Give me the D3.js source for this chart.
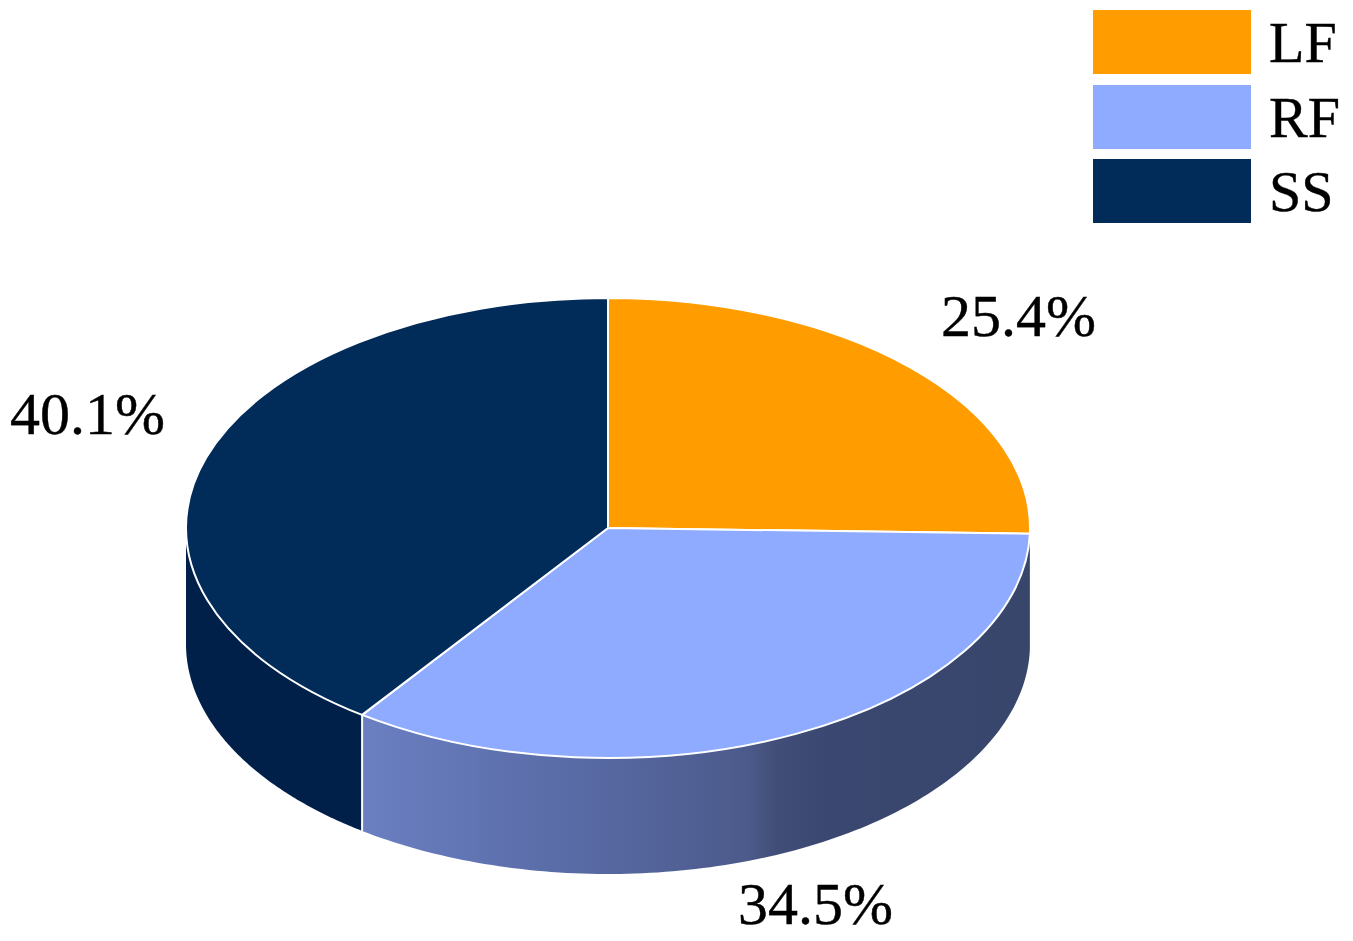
<!DOCTYPE html>
<html>
<head>
<meta charset="utf-8">
<script src="https://cdn.jsdelivr.net/npm/d3@7"></script>
<style>
  html, body { margin: 0; padding: 0; background: #fff; }
  svg { display: block; }
  text { font-family: "Liberation Serif", serif; fill: #000; stroke: #000; stroke-width: 0.4px; }
</style>
</head>
<body>
<div id="chart"></div>
<script>
const categories = ["LF", "RF", "SS"];
const shares = [25.4, 34.5, 40.1];
const shareLabels = ["25.4%", "34.5%", "40.1%"];
const topColors = ["#ff9c00", "#8fabff", "#012b59"];

const width = 1353;
const height = 941;
const cx = 608, cy = 528;
const rx = 422, ry = 230;
const depth = 116;

// label baselines, same order as categories
const labelPos = [[941, 336], [738, 924], [10, 434]];

const svg = d3.select("#chart").append("svg")
    .attr("width", width)
    .attr("height", height);

const color = d3.scaleOrdinal().domain(categories).range(topColors);

const slices = d3.pie().sort(null).value(d => d)(shares)
    .map((s, i) => ({ ...s, name: categories[i], label: shareLabels[i] }));

// the side wall gets its shading from a horizontal gradient
// (x values are relative to the pie centre, the walls sit inside the translated g)
const defs = svg.append("defs");
const rfGrad = defs.append("linearGradient")
    .attr("id", "rfSide")
    .attr("gradientUnits", "userSpaceOnUse")
    .attr("x1", 361 - cx).attr("x2", 1030 - cx).attr("y1", 0).attr("y2", 0);
[[0, "#6b80c2"], [0.2, "#5f72b0"], [0.4, "#55669e"], [0.58, "#4c5a8a"],
 [0.62, "#414e78"], [0.7, "#3a4770"], [1, "#38466c"]].forEach(s => {
    rfGrad.append("stop").attr("offset", s[0]).attr("stop-color", s[1]);
});
const sideFill = { RF: "url(#rfSide)", SS: "#012049" };

const px = a => rx * Math.sin(a);
const py = a => -ry * Math.cos(a);

// wall between two angles: top edge forward, bottom edge back
function wallPath(a0, a1) {
    const steps = d3.range(0, 121).map(i => a0 + (a1 - a0) * i / 120);
    const line = d3.line();
    const top = steps.map(a => [px(a), py(a)]);
    const bottom = steps.slice().reverse().map(a => [px(a), py(a) + depth]);
    return line(top.concat(bottom)) + "Z";
}

const g = svg.append("g").attr("transform", `translate(${cx},${cy})`);

// only the part of each slice facing the viewer has a wall (angle 90 to 270 deg)
slices.filter(s => sideFill[s.name]).forEach(s => {
    const a0 = Math.max(s.startAngle, Math.PI / 2);
    const a1 = Math.min(s.endAngle, Math.PI * 1.5);
    g.append("path")
        .attr("d", wallPath(a0, a1))
        .attr("fill", sideFill[s.name]);
});

// white edge where the two walls meet
const seam = slices[1].endAngle;
g.append("line")
    .attr("x1", px(seam)).attr("y1", py(seam))
    .attr("x2", px(seam)).attr("y2", py(seam) + depth)
    .attr("stroke", "#fff")
    .attr("stroke-width", 2);

const arc = d3.arc().innerRadius(0).outerRadius(rx);

g.append("g")
    .attr("transform", `scale(1,${ry / rx})`)
    .selectAll("path")
    .data(slices)
    .enter()
    .append("path")
    .attr("d", arc)
    .attr("fill", d => color(d.name))
    .attr("stroke", "#fff")
    .attr("stroke-width", 2)
    .attr("stroke-linejoin", "round")
    .attr("vector-effect", "non-scaling-stroke");

svg.selectAll("text.pct")
    .data(slices)
    .enter()
    .append("text")
    .attr("class", "pct")
    .attr("x", (d, i) => labelPos[i][0])
    .attr("y", (d, i) => labelPos[i][1])
    .attr("font-size", 60)
    .text(d => d.label);

// legend
const legendY = [10, 85, 159];
const legend = svg.selectAll("g.legend")
    .data(categories)
    .enter()
    .append("g")
    .attr("class", "legend")
    .attr("transform", (d, i) => `translate(1093,${legendY[i]})`);

legend.append("rect")
    .attr("width", 158)
    .attr("height", 64)
    .attr("fill", d => color(d));

legend.append("text")
    .attr("x", 176)
    .attr("y", 52)
    .attr("font-size", 58)
    .text(d => d);
</script>
</body>
</html>
